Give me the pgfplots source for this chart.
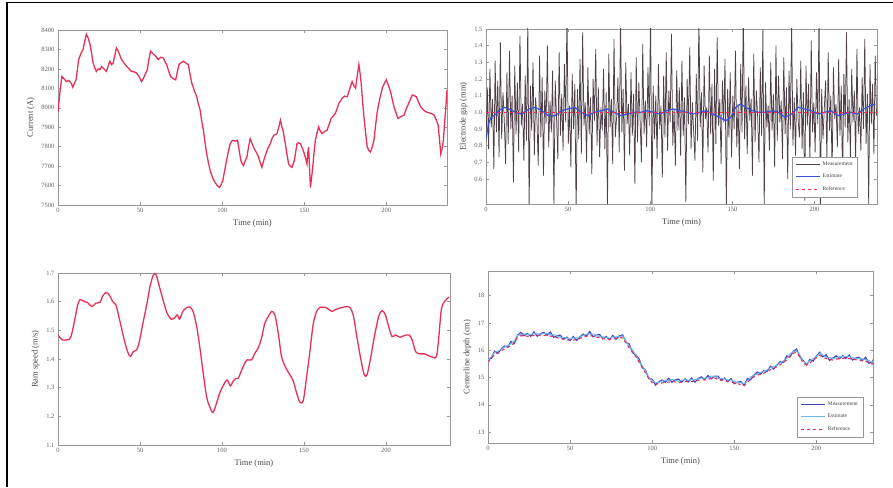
\documentclass[border=0pt]{standalone}
\usepackage{fontspec}
\setmainfont{Liberation Serif}
\usepackage{pgfplots}
\pgfplotsset{compat=1.18}
\usepackage{pgfplotstable}

\definecolor{curred}{RGB}{232,48,86}
\definecolor{measgray}{RGB}{78,66,72}
\definecolor{estblue}{RGB}{60,80,220}
\definecolor{measblue}{RGB}{70,70,185}
\definecolor{estcyan}{RGB}{110,185,235}
\definecolor{axgray}{RGB}{150,150,150}
\definecolor{txtgray}{RGB}{95,95,95}

\pgfplotsset{
  panel/.style={
    scale only axis, anchor=south west, xmin=0,
    axis line style={axgray, line width=0.5pt},
    tick style={axgray, line width=0.4pt},
    major tick length=3pt, tick align=inside,
    xtick={0,50,100,150,200},
    ticklabel style={font=\fontsize{6.5}{7}\selectfont, text=txtgray},
    label style={font=\fontsize{8.5}{9}\selectfont, text=black!72},
    xlabel={Time (min)},
    /pgf/number format/assume math mode=true,
    legend style={font=\fontsize{5.5}{6}\selectfont, draw=axgray, fill=white, row sep=3pt, inner sep=3pt, text=black!75},
    legend cell align=left,
    legend image code/.code={\draw[##1] (0pt,0pt) -- (24pt,0pt);},
  },
  curve/.style={curred, line width=1.3pt},
}

\pgfplotstableread[row sep=\\]{
g\\
0.82\\1.15\\0.78\\1.26\\0.91\\1.08\\0.66\\1.31\\0.88\\1.19\\
0.73\\1.42\\0.84\\1.12\\0.95\\0.69\\1.24\\0.81\\1.37\\0.90\\
1.10\\0.58\\1.28\\0.87\\1.18\\0.76\\1.46\\0.92\\1.05\\0.71\\
1.22\\0.83\\1.55\\0.40\\1.16\\0.89\\1.30\\0.74\\1.09\\0.96\\
0.68\\1.34\\0.85\\1.21\\0.62\\1.13\\0.93\\1.40\\0.79\\1.07\\
0.88\\1.25\\0.44\\1.19\\0.97\\0.72\\1.36\\0.86\\1.11\\0.77\\
1.29\\0.94\\1.60\\0.81\\1.04\\0.67\\1.23\\0.90\\1.17\\0.39\\
1.14\\0.84\\1.32\\0.75\\1.48\\0.92\\1.06\\0.70\\1.27\\0.87\\
1.09\\0.63\\1.20\\0.95\\1.38\\0.80\\1.15\\0.73\\1.03\\0.89\\
1.26\\0.78\\1.12\\0.42\\1.35\\0.91\\1.08\\0.69\\1.44\\0.85\\
0.97\\1.21\\0.76\\1.58\\0.88\\1.14\\0.65\\1.30\\0.93\\1.05\\
0.74\\1.24\\0.86\\1.11\\0.57\\1.33\\0.82\\1.18\\0.95\\0.70\\
1.41\\0.87\\1.07\\0.79\\1.27\\0.92\\1.62\\0.38\\1.16\\0.84\\
1.10\\0.72\\1.29\\0.90\\1.04\\0.61\\1.22\\0.85\\1.36\\0.77\\
1.13\\0.94\\1.47\\0.80\\1.02\\0.68\\1.25\\0.89\\1.15\\0.74\\
1.31\\0.86\\1.09\\0.46\\1.20\\0.93\\1.39\\0.78\\1.06\\0.88\\
0.71\\1.23\\0.83\\1.57\\0.91\\1.12\\0.64\\1.28\\0.96\\1.03\\
0.76\\1.34\\0.87\\1.17\\0.59\\1.26\\0.81\\1.45\\0.92\\1.08\\
0.69\\1.19\\0.94\\1.32\\0.41\\1.14\\0.85\\1.24\\0.73\\1.10\\
0.90\\1.37\\0.79\\1.05\\0.66\\1.29\\0.88\\1.61\\0.84\\1.16\\
0.75\\1.21\\0.95\\1.08\\0.62\\1.35\\0.82\\1.13\\0.97\\0.70\\
1.27\\0.86\\1.50\\0.43\\1.18\\0.91\\1.04\\0.77\\1.30\\0.89\\
1.11\\0.67\\1.40\\0.83\\1.22\\0.94\\1.07\\0.72\\1.33\\0.87\\
1.15\\0.60\\1.25\\0.90\\1.56\\0.80\\1.09\\0.74\\1.20\\0.95\\
0.85\\1.31\\0.78\\1.12\\0.47\\1.28\\0.92\\1.17\\0.68\\1.43\\
0.88\\1.06\\0.76\\1.24\\0.93\\1.59\\0.37\\1.14\\0.84\\1.02\\
1.19\\0.71\\1.36\\0.89\\1.10\\0.64\\1.27\\0.96\\1.05\\0.79\\
1.32\\0.86\\1.16\\0.58\\1.23\\0.91\\1.48\\0.82\\1.08\\0.73\\
1.26\\0.94\\1.13\\0.69\\1.38\\0.87\\1.03\\0.77\\1.21\\0.90\\
1.44\\0.81\\1.11\\0.45\\1.29\\0.93\\1.17\\0.75\\1.34\\0.98\\
}\gapmeas

\pgfplotstableread{
t meas est ref
0 15.67 15.64 15.57
2 15.70 15.76 15.71
4 15.96 15.91 15.83
6 15.88 15.97 15.91
8 16.04 16.02 15.98
10 16.15 16.11 16.04
12 16.11 16.17 16.10
14 16.32 16.23 16.18
16 16.24 16.34 16.26
18 16.55 16.54 16.48
20 16.65 16.57 16.53
22 16.53 16.60 16.53
24 16.61 16.58 16.51
26 16.51 16.57 16.52
28 16.67 16.62 16.54
30 16.51 16.60 16.54
32 16.60 16.58 16.54
34 16.65 16.61 16.54
36 16.55 16.61 16.54
38 16.66 16.57 16.52
40 16.47 16.57 16.49
42 16.53 16.52 16.46
44 16.55 16.47 16.43
46 16.40 16.47 16.40
48 16.48 16.45 16.38
50 16.35 16.41 16.36
52 16.50 16.45 16.37
54 16.36 16.45 16.39
56 16.49 16.47 16.43
58 16.59 16.55 16.48
60 16.52 16.58 16.51
62 16.68 16.59 16.54
64 16.49 16.59 16.51
66 16.55 16.54 16.48
68 16.57 16.49 16.45
70 16.42 16.49 16.42
72 16.50 16.47 16.40
74 16.38 16.44 16.39
76 16.54 16.49 16.41
78 16.40 16.49 16.43
80 16.52 16.50 16.46
82 16.56 16.52 16.45
84 16.28 16.34 16.27
86 16.23 16.14 16.09
88 15.91 16.01 15.93
90 15.83 15.82 15.76
92 15.68 15.60 15.56
94 15.36 15.43 15.36
96 15.26 15.23 15.16
98 14.95 15.01 14.96
100 14.94 14.89 14.81
102 14.72 14.81 14.75
104 14.84 14.82 14.78
106 14.91 14.87 14.80
108 14.83 14.89 14.82
110 14.97 14.88 14.83
112 14.83 14.93 14.85
114 14.91 14.90 14.84
116 14.94 14.86 14.82
118 14.83 14.90 14.83
120 14.95 14.92 14.85
122 14.84 14.90 14.85
124 14.98 14.93 14.85
126 14.83 14.92 14.86
128 14.96 14.94 14.90
130 15.02 14.98 14.91
132 14.92 14.98 14.91
134 15.07 14.98 14.93
136 14.95 15.05 14.97
138 15.05 15.04 14.98
140 15.05 14.97 14.93
142 14.90 14.97 14.90
144 14.98 14.95 14.88
146 14.85 14.91 14.86
148 14.96 14.91 14.83
150 14.77 14.86 14.80
152 14.83 14.81 14.77
154 14.85 14.81 14.74
156 14.71 14.77 14.70
158 14.96 14.87 14.82
160 14.92 15.02 14.94
162 15.09 15.08 15.02
164 15.20 15.12 15.08
166 15.12 15.19 15.12
168 15.26 15.23 15.16
170 15.22 15.28 15.23
172 15.41 15.36 15.28
174 15.31 15.40 15.34
176 15.46 15.44 15.40
178 15.58 15.54 15.47
180 15.55 15.61 15.54
182 15.79 15.70 15.65
184 15.76 15.86 15.78
186 15.96 15.95 15.89
188 16.04 15.96 15.92
190 15.75 15.82 15.75
192 15.62 15.59 15.52
194 15.45 15.51 15.46
196 15.66 15.61 15.53
198 15.60 15.69 15.63
200 15.78 15.76 15.72
202 15.92 15.88 15.81
204 15.76 15.82 15.75
206 15.83 15.74 15.69
208 15.63 15.73 15.65
210 15.71 15.70 15.64
212 15.79 15.71 15.67
214 15.69 15.76 15.69
216 15.80 15.77 15.70
218 15.70 15.76 15.71
220 15.82 15.77 15.69
222 15.64 15.73 15.67
224 15.71 15.69 15.65
226 15.74 15.70 15.63
228 15.62 15.68 15.61
230 15.74 15.65 15.60
232 15.52 15.62 15.54
234 15.56 15.55 15.49
235 15.69 15.64 15.57
}\depth

\begin{document}
\begin{tikzpicture}
\path[use as bounding box] (0pt,0pt) rectangle (893pt,487pt);
\draw[line width=1.3pt] (7pt,0pt) -- (7pt,484.5pt) -- (893pt,484.5pt);

% Panel 1: Current
\begin{axis}[panel, at={(58pt,282pt)}, width=389pt, height=175pt,
  xmax=237, ymin=7500, ymax=8400, ytick={7500,7600,...,8400},
  yticklabel style={/pgf/number format/1000 sep={}},
  ylabel={Current (A)}]
\addplot[curve] coordinates {
(0,7980)(1.2,8080)(2.4,8161)(3.6,8150)(5,8135)(6.5,8140)(8,8127)(9,8106)(10,8125)(11,8144)(12.6,8248)(14,8280)(15.3,8300)(16.3,8345)(17.3,8378)(18.3,8360)(19.3,8334)(20.3,8290)(21.4,8230)(22.4,8205)(23.4,8187)(24.5,8200)(25.5,8196)(26.5,8212)(27.5,8204)(28.5,8195)(29.5,8187)(30.6,8215)(31.6,8239)(32.6,8222)(33.6,8230)(34.6,8268)(35.6,8308)(36.7,8291)(37.7,8270)(38.7,8248)(40.2,8230)(41.8,8213)(43.3,8200)(44.8,8187)(46.3,8185)(47.9,8178)(49.4,8160)(50.9,8135)(52,8150)(53,8170)(54.4,8196)(55.4,8250)(56.4,8291)(57.5,8280)(58.5,8274)(59.8,8262)(61.1,8248)(62.6,8260)(64.2,8256)(65.2,8238)(66.2,8222)(67.4,8190)(68.6,8161)(70.1,8150)(71.7,8144)(72.7,8185)(73.7,8222)(75,8232)(76.4,8239)(77.9,8230)(79.4,8222)(80.5,8170)(81.5,8127)(83,8090)(84.5,8057)(85.5,8020)(86.6,7988)(87.6,7930)(88.6,7884)(89.6,7820)(90.6,7763)(91.7,7715)(92.7,7677)(94.2,7640)(95.7,7616)(97,7600)(98.4,7590)(99.4,7605)(100.4,7625)(101.6,7680)(102.9,7737)(103.9,7780)(104.9,7815)(106,7830)(106.9,7833)(108,7828)(109.4,7833)(110.4,7780)(111.4,7729)(112.2,7712)(113,7703)(114,7725)(115.1,7746)(116.1,7800)(117.1,7841)(118.4,7812)(119.6,7789)(121,7768)(122.2,7746)(123.2,7718)(124.2,7694)(125.2,7725)(126.3,7755)(127.8,7790)(129.3,7815)(130.3,7840)(131.4,7858)(132.4,7862)(133.4,7867)(134.5,7900)(135.5,7936)(136.3,7905)(137.1,7884)(138.5,7815)(139.5,7760)(140.5,7711)(141.5,7700)(142.6,7694)(144,7729)(145.6,7815)(146.6,7820)(147.7,7815)(149,7790)(150.1,7763)(151,7735)(151.7,7711)(152.2,7770)(152.7,7798)(153.3,7680)(153.8,7590)(154.5,7640)(155.2,7694)(156,7770)(156.8,7833)(157.8,7870)(158.8,7902)(159.8,7880)(160.9,7867)(162.4,7878)(163.9,7884)(165.2,7915)(166.4,7945)(167.7,7958)(169,7971)(170,7995)(171.1,8023)(172.1,8035)(173.1,8049)(174.6,8060)(176.2,8057)(177.7,8095)(179.2,8135)(180.2,8115)(181.3,8101)(182.3,8165)(183.3,8222)(184,8180)(184.7,8127)(185.5,8040)(186.4,7954)(187.4,7870)(188.4,7798)(189.4,7780)(190.4,7772)(191.5,7800)(192.5,7833)(193.5,7910)(194.5,7980)(196,8045)(197.6,8101)(198.8,8125)(200,8144)(201.3,8115)(202.6,8083)(203.6,8045)(204.7,8005)(205.9,7975)(207.1,7945)(209,7955)(210.8,7962)(212,7990)(213.2,8014)(214.5,8040)(215.9,8066)(217.1,8062)(218.3,8057)(219.6,8030)(221,8005)(222.5,7990)(224,7980)(225.5,7975)(227.1,7971)(228.1,7968)(229.1,7962)(230.4,7940)(231.6,7910)(232.4,7840)(233.2,7763)(234,7790)(234.8,7833)(235.6,7930)(236.3,8005)(237,8092)
};
\end{axis}

% Panel 2: Electrode gap
\begin{axis}[panel, at={(486pt,283pt)}, width=391pt, height=175pt,
  xmax=238, ymin=0.45, ymax=1.5,
  ytick={0.6,0.7,0.8,0.9,1.0,1.1,1.2,1.3,1.4,1.5},
  yticklabel style={/pgf/number format/.cd, fixed, fixed zerofill, precision=1},
  ylabel={Electrode gap (mm)},
  legend style={at={(0.951,0.04)}, anchor=south east}]
\addplot[measgray, line width=0.75pt] table[x expr=\coordindex*0.795, y=g] {\gapmeas};
\addlegendentry{Measurement}
\addplot[estblue, line width=1.2pt] coordinates {
(0,0.84)(1.5,0.93)(3,0.97)(5,0.98)(8,1.01)(11,1.03)(14,1.02)(18,1.00)(22,0.99)(26,1.02)(30,1.03)(34,1.01)(38,0.98)(42,0.98)(46,1.01)(50,1.02)(54,1.03)(58,1.00)(62,0.98)(66,1.00)(70,1.01)(74,1.02)(78,1.00)(82,0.98)(86,0.99)(90,1.00)(94,1.00)(98,1.01)(102,1.00)(106,0.99)(110,1.01)(114,1.02)(118,1.01)(122,1.00)(126,0.99)(130,1.00)(134,1.01)(138,0.99)(142,0.97)(146,0.95)(149,0.97)(152,1.03)(155,1.05)(158,1.03)(162,1.01)(166,1.00)(170,1.00)(174,1.01)(178,1.00)(182,0.97)(186,0.99)(190,1.03)(194,1.02)(198,1.01)(202,0.99)(206,1.00)(210,1.01)(214,0.98)(218,0.99)(222,1.00)(226,0.99)(230,1.02)(234,1.04)(237,1.05)
};
\addlegendentry{Estimate}
\addplot[curred, line width=1pt, dashed] coordinates {(0,1.0)(238,1.0)};
\addlegendentry{Reference}
\end{axis}

% Panel 3: Ram speed
\begin{axis}[panel, at={(58pt,42pt)}, width=392pt, height=172pt,
  xmax=239, ymin=1.1, ymax=1.7,
  ytick={1.1,1.2,1.3,1.4,1.5,1.6,1.7},
  yticklabel style={/pgf/number format/.cd, fixed, fixed zerofill, precision=1},
  ylabel={Ram speed (m/s)}]
\addplot[curve, smooth] coordinates {
(0,1.484)(2.65,1.467)(5.7,1.467)(7.8,1.476)(9.8,1.525)(11.8,1.583)(13.3,1.607)(15.9,1.601)(18,1.597)(20.6,1.583)(23.1,1.595)(25.7,1.598)(27.1,1.618)(29.2,1.632)(31.2,1.624)(33.3,1.601)(35.3,1.589)(37.3,1.543)(40.4,1.467)(42.4,1.426)(44.1,1.409)(45.9,1.426)(48,1.432)(49.6,1.461)(52,1.531)(54.1,1.589)(56.1,1.653)(58.2,1.694)(59.8,1.694)(61.8,1.653)(64.3,1.601)(66.5,1.560)(69,1.539)(71,1.543)(72.7,1.554)(74.1,1.539)(76.1,1.566)(78.2,1.578)(80.6,1.581)(82.7,1.560)(84.7,1.508)(86.7,1.432)(88.8,1.339)(90.8,1.263)(92.9,1.228)(94.5,1.213)(96.5,1.243)(98.6,1.281)(101,1.310)(103.1,1.327)(105.1,1.306)(106.7,1.322)(108.4,1.332)(109.8,1.332)(111.2,1.350)(113.3,1.379)(115.3,1.397)(118,1.397)(120,1.420)(122,1.438)(124.1,1.473)(126.1,1.525)(128.2,1.548)(130.2,1.566)(132.2,1.554)(134.3,1.490)(136.3,1.409)(139,1.368)(141.4,1.345)(143.5,1.322)(145.5,1.281)(147.6,1.248)(149.6,1.257)(151.6,1.339)(153.7,1.432)(155.7,1.525)(158.2,1.572)(160.8,1.581)(163.9,1.578)(166.9,1.566)(169,1.572)(172,1.578)(176.1,1.583)(178.2,1.578)(180.2,1.548)(182.2,1.478)(184.7,1.397)(186.7,1.345)(188.4,1.345)(190.4,1.397)(192.9,1.478)(195.5,1.548)(197.6,1.569)(199.6,1.554)(201.6,1.513)(203.7,1.478)(205.7,1.484)(208.4,1.476)(210.8,1.481)(213.9,1.484)(215.9,1.467)(218,1.426)(220.6,1.418)(223.5,1.418)(226.1,1.411)(228.8,1.406)(230.8,1.409)(232.2,1.478)(233.7,1.572)(235.7,1.601)(238.4,1.616)
};
\node[anchor=south west, font=\fontsize{5.5}{6}\selectfont, text=txtgray, inner sep=1pt] at (rel axis cs:-0.005,1.005) {$\times10^{-5}$};
\end{axis}

% Panel 4: Centerline depth
\begin{axis}[panel, at={(488pt,44pt)}, width=385pt, height=172pt,
  xmax=234.5, ymin=12.6, ymax=18.9,
  ytick={13,14,15,16,17,18},
  ylabel={Centerline depth (cm)},
  legend style={at={(0.974,0.035)}, anchor=south east}]
\addplot[measblue, line width=1.2pt] table[x=t, y=meas] {\depth};
\addlegendentry{Measurement}
\addplot[estcyan, line width=1pt] table[x=t, y=est] {\depth};
\addlegendentry{Estimate}
\addplot[curred, line width=1.1pt, dashed] table[x=t, y=ref] {\depth};
\addlegendentry{Reference}
\end{axis}
\end{tikzpicture}
\end{document}
